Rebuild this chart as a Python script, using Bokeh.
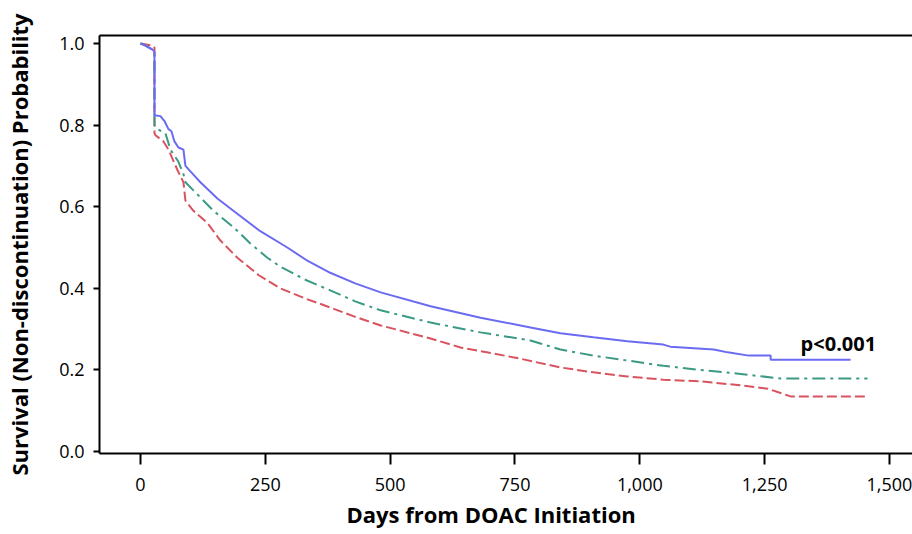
from bokeh.plotting import figure
from bokeh.models import Range1d, LinearAxis, NumeralTickFormatter, FixedTicker, Label, Title
from bokeh.embed import file_html
from bokeh.resources import INLINE

# --- data ---
blue_days = [0, 10, 24, 28, 28, 40, 48, 56, 62, 68, 76, 86, 90, 105, 120, 154, 186, 240, 294,
             335, 380, 430, 481, 581, 681, 781, 841, 907, 975, 1047, 1061, 1148, 1176, 1218,
             1262, 1262, 1422]
blue_surv = [1.0, 0.995, 0.985, 0.98, 0.824, 0.822, 0.81, 0.79, 0.785, 0.76, 0.745, 0.74, 0.70,
             0.68, 0.66, 0.62, 0.59, 0.54, 0.50, 0.467, 0.438, 0.412, 0.39, 0.356, 0.328, 0.304,
             0.29, 0.28, 0.27, 0.262, 0.257, 0.25, 0.243, 0.235, 0.235, 0.225, 0.225]

green_days = [0, 10, 24, 28, 28, 34, 50, 60, 76, 86, 90, 106, 146, 186, 220, 254, 280, 330,
              380, 430, 481, 581, 681, 781, 841, 907, 975, 1047, 1121, 1202, 1282, 1456]
green_surv = [1.0, 0.995, 0.985, 0.98, 0.80, 0.79, 0.78, 0.74, 0.71, 0.68, 0.66, 0.64, 0.59,
              0.55, 0.51, 0.475, 0.453, 0.421, 0.395, 0.368, 0.346, 0.316, 0.292, 0.272,
              0.25, 0.235, 0.223, 0.21, 0.20, 0.19, 0.179, 0.179]

red_days = [0, 24, 28, 28, 30, 46, 56, 74, 86, 90, 106, 134, 160, 194, 237, 280, 330, 380,
            430, 481, 581, 641, 751, 841, 907, 975, 1047, 1121, 1202, 1256, 1302, 1456]
red_surv = [1.0, 0.995, 0.99, 0.78, 0.775, 0.76, 0.74, 0.69, 0.66, 0.615, 0.59, 0.56, 0.517,
            0.475, 0.432, 0.40, 0.375, 0.353, 0.33, 0.309, 0.277, 0.255, 0.23, 0.206, 0.194,
            0.184, 0.176, 0.172, 0.162, 0.154, 0.135, 0.135]

x_ticks = [0, 250, 500, 750, 1000, 1250, 1500]
y_ticks = [0.0, 0.2, 0.4, 0.6, 0.8, 1.0]
x_title = "Days from DOAC Initiation"
y_title = "Survival (Non-discontinuation) Probability"
p_text = "p<0.001"
p_text_x = 1322
p_text_y = 0.265

FONT = "Open Sans"

p = figure(width=912, height=534, output_backend="svg", toolbar_location=None,
           x_range=Range1d(-82.1, 1546.1), y_range=Range1d(-0.0049, 1.0196),
           min_border_left=99, min_border_right=0, min_border_top=35, min_border_bottom=81)
p.outline_line_color = None
p.background_fill_color = "white"
p.border_fill_color = "white"
p.xgrid.visible = False
p.ygrid.visible = False

p.line(red_days, red_surv, line_color="#d9535f", line_width=2, line_dash="10 4")
p.line(green_days, green_surv, line_color="#3a9a85", line_width=2, line_dash="13 5 3 5")
p.line(blue_days, blue_surv, line_color="#6b6bf2", line_width=2)

p.add_layout(Label(x=p_text_x, y=p_text_y, text=p_text, text_font=FONT, text_font_style="bold",
                   text_font_size="20px", text_color="black", text_baseline="alphabetic"))

for ax in (p.xaxis[0], p.yaxis[0]):
    ax.axis_line_width = 2
    ax.axis_line_color = "black"
    ax.major_tick_line_width = 2
    ax.major_tick_line_color = "black"
    ax.major_tick_in = 0
    ax.minor_tick_line_color = None
    ax.major_label_text_font = FONT
    ax.major_label_text_font_size = "18px"
    ax.major_label_text_color = "black"
    ax.axis_label_text_font = FONT
    ax.axis_label_text_font_style = "bold"
    ax.axis_label_text_color = "black"

p.xaxis.ticker = FixedTicker(ticks=x_ticks)
p.xaxis.formatter = NumeralTickFormatter(format="0,0")
p.xaxis.major_tick_out = 11
p.xaxis.major_label_standoff = 13

p.yaxis.ticker = FixedTicker(ticks=y_ticks)
p.yaxis.formatter = NumeralTickFormatter(format="0.0")
p.yaxis.major_tick_out = 6
p.yaxis.major_label_standoff = 9
p.yaxis.axis_label = y_title
p.yaxis.axis_label_text_font_size = "22px"
p.yaxis.axis_label_standoff = 22

top = LinearAxis(ticker=FixedTicker(ticks=[]), axis_line_width=2, axis_line_color="black",
                 major_label_text_font_size="0px", major_tick_line_color=None,
                 minor_tick_line_color=None, major_label_standoff=0)
p.add_layout(top, "above")

p.add_layout(Title(text=x_title, align="left", offset=247, text_font=FONT,
                   text_font_style="bold", text_font_size="22px", text_color="black",
                   standoff=7), "below")

open("out.html", "w").write(file_html(p, INLINE))
